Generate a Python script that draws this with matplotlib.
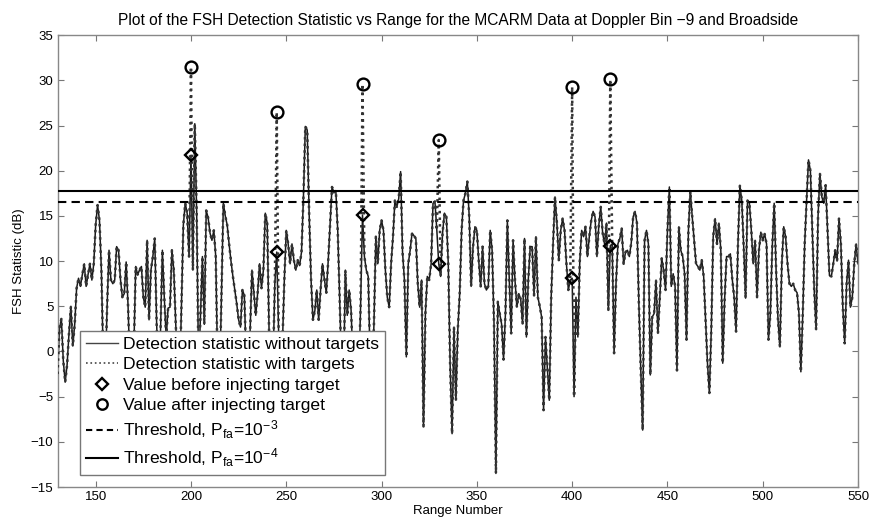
import numpy as np
import matplotlib
matplotlib.use("Agg")
import matplotlib.pyplot as plt
from matplotlib.lines import Line2D

plt.rcParams['font.family'] = ['Liberation Sans', 'DejaVu Sans']
plt.rcParams['mathtext.fontset'] = 'custom'
plt.rcParams['mathtext.rm'] = 'Liberation Sans'
plt.rcParams['mathtext.it'] = 'Liberation Sans'

range_start = 130
range_stop = 550
fsh_values = [
    -2.5, 2.5, 3.6, -1.0, -3.4, -1.5, 2.0, 5.0, 0.6, 3.0,      # 130
    7.0, 8.1, 7.2, 8.5, 9.7, 7.2, 8.5, 9.7, 7.9, 9.7,         # 140
    14.0, 16.2, 14.5, 9.0, -1.0, -3.0, 5.0, 11.2, 7.9, 7.5,   # 150
    7.9, 11.6, 11.2, 8.0, 6.0, 6.4, 9.9, 5.0, -2.0, -4.0,     # 160
    0.0, 9.4, 8.5, 9.0, 9.4, 6.0, 4.9, 12.3, 3.5, 9.0,        # 170
    10.5, 12.5, 3.0, -3.0, 2.0, 11.2, 6.0, 1.5, 4.8, 4.9,     # 180
    11.2, 9.0, 3.1, -2.0, -4.0, 5.0, 14.0, 16.4, 15.3, 10.5,  # 190
    21.7, 9.0, 25.2, 15.3, -2.0, 4.0, 10.5, 3.0, 15.6, 14.8,  # 200
    13.1, 12.3, 13.4, 10.5, -2.0, -4.0, 6.0, 16.4, 15.0, 14.0,  # 210
    11.9, 10.0, 8.3, 6.8, 5.3, 3.5, 2.7, 6.8, 6.2, -1.0,      # 220
    -4.0, 2.0, 9.0, 6.5, 4.0, 6.5, 9.7, 7.0, 9.0, 15.3,       # 230
    14.2, 2.0, -3.0, -2.0, 7.5, 11.0, 2.0, -3.0, 1.0, 8.0,    # 240
    13.4, 11.9, 9.7, 11.9, 10.1, 9.0, 10.1, 9.5, 11.0, 17.0,  # 250
    24.9, 24.5, 15.3, 8.0, 3.5, 4.5, 6.8, 3.5, 6.8, 9.7,      # 260
    8.0, 6.5, 10.0, 14.0, 18.2, 17.6, 17.8, 13.4, 6.0, -2.0,  # 270
    -4.0, 9.0, 4.0, 6.8, 4.6, -1.0, -4.0, -6.0, -3.0, 5.0,    # 280
    15.1, 10.5, 9.0, 8.3, -1.0, -4.0, 3.0, 12.7, 9.7, 13.4,   # 290
    14.5, 13.4, 9.0, 6.0, 4.9, 9.7, 12.7, 16.7, 16.0, 16.9,   # 300
    19.9, 11.0, 7.9, -0.6, 9.7, 11.2, 13.1, 12.8, 12.5, 7.5,  # 310
    4.9, 7.9, -8.3, 4.2, 8.3, 7.9, 9.7, 16.4, 16.6, 13.4,     # 320
    9.7, 8.3, 13.1, 15.3, 14.9, 9.7, -1.7, -9.1, 2.7, -5.4,   # 330
    2.4, 6.4, 13.4, 16.7, 17.5, 18.8, 14.9, 7.2, 11.6, 13.8,  # 340
    13.4, 10.0, 7.2, 11.6, 7.5, 6.8, 7.2, 13.4, 11.2, 3.1,    # 350
    -13.5, 5.5, 4.2, 3.0, -0.9, 4.2, 14.5, 8.0, 2.0, 12.3,    # 360
    7.9, 4.9, 6.4, 5.8, 3.1, 12.5, 1.6, 8.0, 11.6, 11.6,      # 370
    6.2, 12.7, 6.0, 5.0, 3.8, -6.5, 1.6, -2.0, -5.4, 6.0,     # 380
    12.0, 17.1, 14.2, 10.1, 13.4, 14.7, 13.4, 9.7, 6.8, 7.9,  # 390
    8.1, -5.0, 6.0, 1.6, 10.0, 13.4, 12.7, 13.8, 10.5, 12.7,  # 400
    14.5, 15.5, 14.9, 10.5, 14.0, 16.0, 13.1, 11.9, 14.2, 4.6,  # 410
    11.7, 11.9, -0.2, 7.5, 11.9, 12.5, 13.6, 9.7, 11.0, 11.2,   # 420
    10.5, 12.0, 14.9, 15.5, 14.2, 5.3, -2.0, -8.7, 12.3, 13.4,  # 430
    11.9, -2.6, 3.8, 4.2, 7.9, 2.0, 6.0, 10.3, 9.0, 6.8,        # 440
    13.4, 18.2, 7.2, 8.6, 7.2, -2.1, 13.8, 11.2, 10.5, 8.6,     # 450
    1.3, 13.4, 17.7, 14.9, 12.3, 9.7, 9.4, 9.0, 10.1, 8.3,      # 460
    3.5, -1.3, -4.6, 2.4, 12.7, 14.7, 11.9, 14.2, 11.2, -1.3,   # 470
    5.8, 10.5, 10.5, 10.8, 8.0, 6.0, 2.2, 11.9, 18.4, 16.7,     # 480
    11.6, 5.9, 16.7, 16.4, 13.4, 9.7, 12.3, 6.0, 11.2, 13.2,    # 490
    12.3, 13.0, 11.9, 1.3, 4.2, 11.6, 16.4, 9.0, 3.5, 0.5,      # 500
    9.7, 13.8, 12.7, 9.7, 7.5, 7.2, 7.5, 6.8, 6.5, 4.2,         # 510
    -2.25, 4.2, 11.9, 16.7, 21.2, 20.0, 13.4, 6.8, 2.4, 14.9,   # 520
    19.7, 17.1, 16.4, 18.4, 13.4, 8.4, 8.3, 9.7, 11.2, 10.0,    # 530
    14.7, 11.9, 4.9, 0.9, 7.5, 10.1, 4.9, 6.0, 9.7, 11.9,       # 540
    9.7,                                                        # 550
]

target_ranges = [200, 245, 290, 330, 400, 420]
value_before = [21.7, 11.0, 15.1, 9.7, 8.1, 11.7]
value_after = [31.5, 26.5, 29.6, 23.4, 29.3, 30.1]

threshold_1e3 = 16.5
threshold_1e4 = 17.8

ranges = np.arange(range_start, range_stop + 1)
without = np.array(fsh_values, dtype=float)
with_t = without.copy()
for r, v in zip(target_ranges, value_after):
    with_t[r - range_start] = v

fig = plt.figure(figsize=(8.72, 5.17), dpi=100)
ax = fig.add_axes([0.066, 0.058, 0.918, 0.874])

ax.plot(ranges, without, '-', color='#1a1a1a', lw=1.1, zorder=2)
ax.plot(ranges, with_t, ':', color='#333333', lw=1.8, zorder=3)
ax.plot(target_ranges, value_before, 'D', ms=6.0, mfc='none', mec='black', mew=1.7, zorder=4)
ax.plot(target_ranges, value_after, 'o', ms=8.5, mfc='none', mec='black', mew=1.7, zorder=4)
ax.axhline(threshold_1e3, color='black', ls=(0, (4, 2.5)), lw=1.5, zorder=3)
ax.axhline(threshold_1e4, color='black', ls='-', lw=1.5, zorder=3)

ax.set_xlim(130, 550)
ax.set_ylim(-15, 35)
ax.set_xticks(np.arange(150, 551, 50))
ax.set_yticks(np.arange(-15, 36, 5))
ax.tick_params(direction='in', top=True, right=True, length=4, width=0.8,
               color='#777777', labelsize=9.5, pad=3)
for s in ax.spines.values():
    s.set_color('#888888')
    s.set_linewidth(1.0)

ax.set_title('Plot of the FSH Detection Statistic vs Range for the MCARM Data at Doppler Bin \u22129 and Broadside',
             fontsize=11.2, pad=7)
ax.set_xlabel('Range Number', fontsize=9.5, labelpad=1)
ax.set_ylabel('FSH Statistic (dB)', fontsize=9.5, labelpad=4)

handles = [
    Line2D([], [], color='#444444', ls='-', lw=1.0),
    Line2D([], [], color='#444444', ls=':', lw=1.2),
    Line2D([], [], color='black', ls='none', marker='D', ms=6, mfc='none', mew=1.7),
    Line2D([], [], color='black', ls='none', marker='o', ms=7.5, mfc='none', mew=1.7),
    Line2D([], [], color='black', ls=(0, (3, 2)), lw=1.5),
    Line2D([], [], color='black', ls='-', lw=1.5),
]
labels = [
    'Detection statistic without targets',
    'Detection statistic with targets',
    'Value before injecting target',
    'Value after injecting target',
    r'Threshold, P$_{\mathrm{fa}}$=10$^{\mathrm{-3}}$',
    r'Threshold, P$_{\mathrm{fa}}$=10$^{\mathrm{-4}}$',
]
leg = ax.legend(handles, labels, loc='lower left', bbox_to_anchor=(0.028, 0.026),
                fontsize=12.6, frameon=True, fancybox=False, edgecolor='#777777',
                framealpha=1.0, handlelength=1.8, handletextpad=0.3,
                labelspacing=0.3, borderpad=0.35, borderaxespad=0.0)
leg.get_frame().set_linewidth(1.0)
leg.set_zorder(10)

fig.savefig('out.png', dpi=100)
